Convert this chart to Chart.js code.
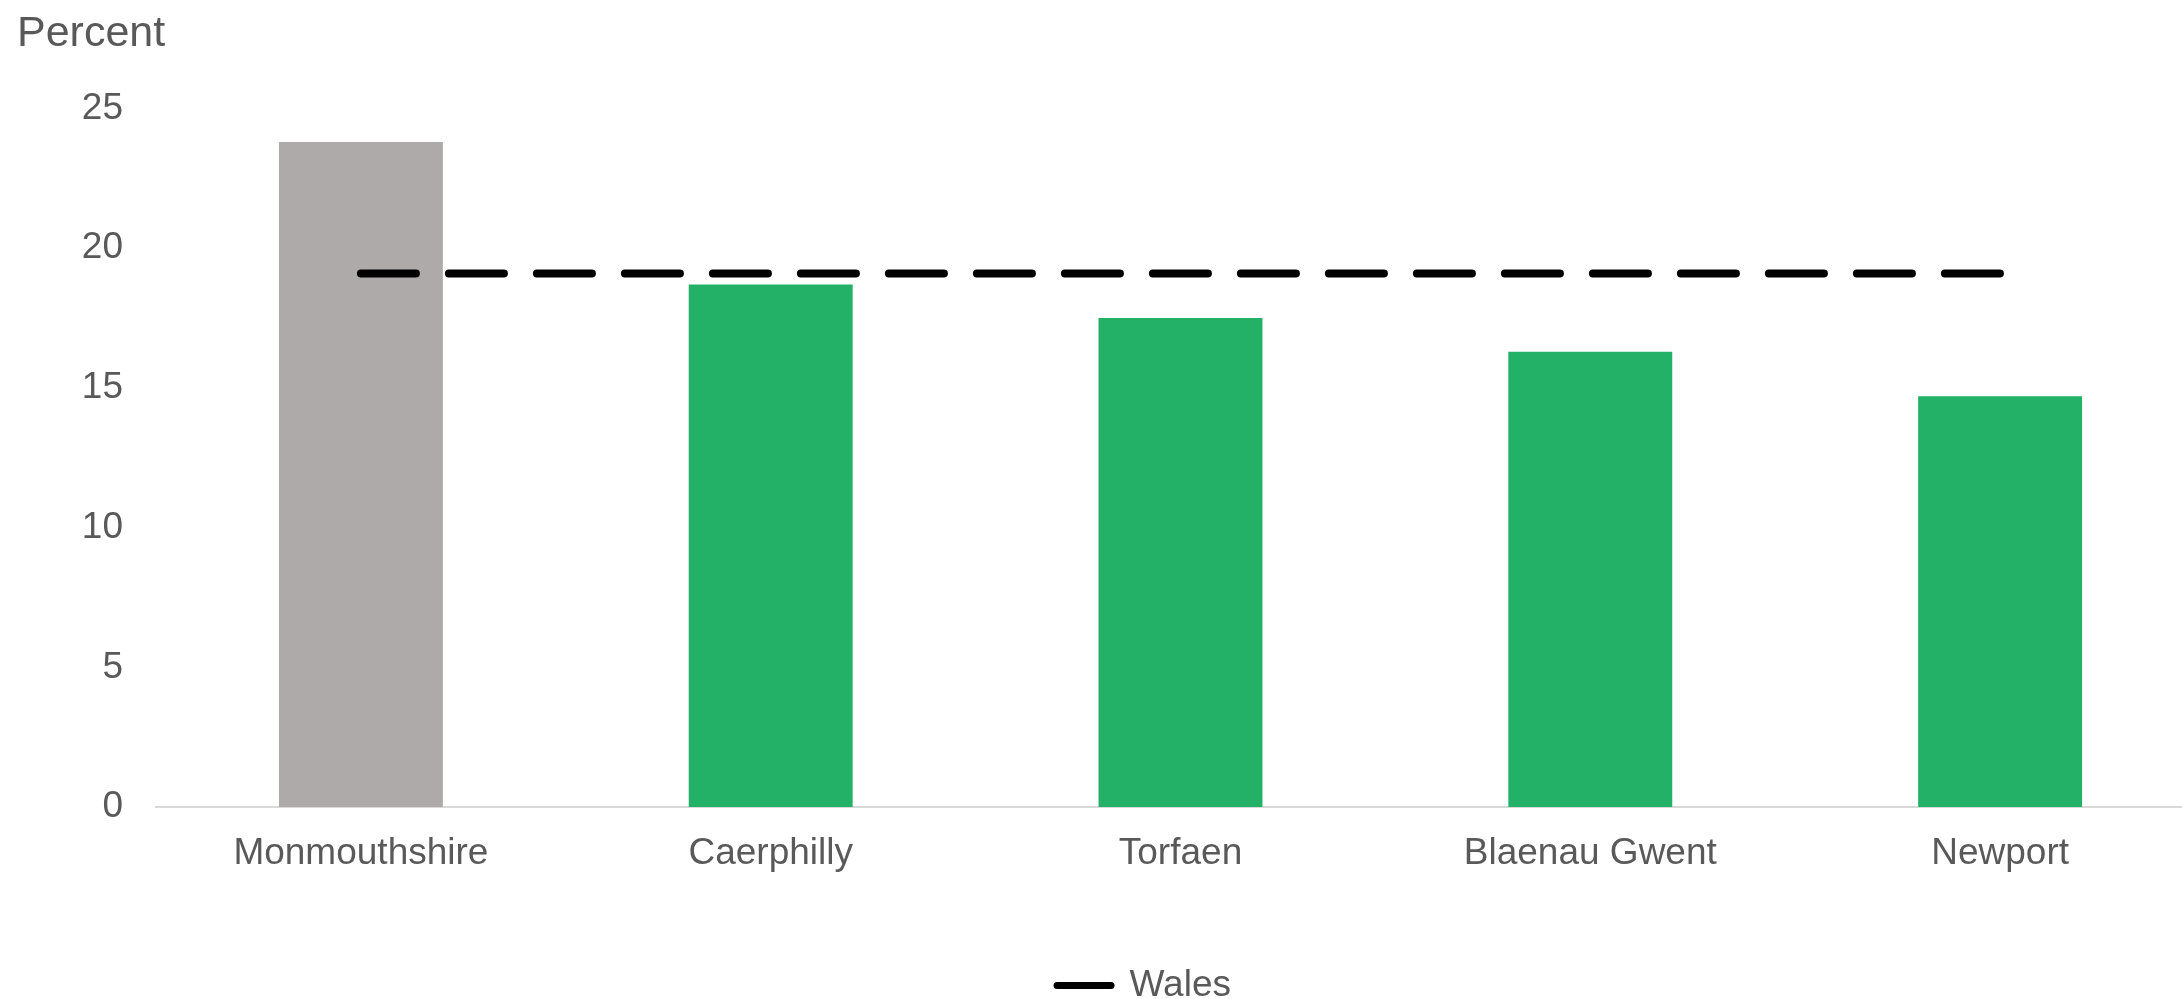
<!DOCTYPE html>
<html>
<head>
<meta charset="utf-8">
<script src="https://cdn.jsdelivr.net/npm/chart.js@4"></script>
<style>
  html, body { margin: 0; padding: 0; background: #fff; overflow: hidden; }
  canvas { display: block; }
</style>
</head>
<body>
<!-- a bit wider than the window: the Excel plot runs off the right edge -->
<canvas id="chart" width="2205" height="999"></canvas>
<script>
// data
const areas = ["Monmouthshire", "Caerphilly", "Torfaen", "Blaenau Gwent", "Newport"];
const areaValues = [23.8, 18.7, 17.5, 16.3, 14.7];
const walesValues = [19.1, 19.1, 19.1, 19.1, 19.1];
const barColors = ["#AEAAAA", "#23B067", "#23B067", "#23B067", "#23B067"];
const yTicks = [0, 5, 10, 15, 20, 25];

const textColor = "#595959";
const fontFamily = "'Liberation Sans', Arial, sans-serif";

// nudge the legend to where Excel put it
const legendShift = {
  id: "legendShift",
  afterLayout(chart) {
    const lg = chart.legend;
    if (!lg) return;
    lg.left += 33;
    lg.right += 33;
    lg.top += 15;
    lg.bottom += 15;
  }
};

new Chart(document.getElementById("chart"), {
  data: {
    labels: areas,
    datasets: [
      {
        type: "line",
        label: "Wales",
        data: walesValues,
        borderColor: "#000000",
        backgroundColor: "#000000",
        borderWidth: 8,
        borderDash: [55, 33],
        borderCapStyle: "round",
        pointRadius: 0,
        order: 0
      },
      {
        type: "bar",
        label: "Area",
        data: areaValues,
        backgroundColor: barColors,
        barPercentage: 0.4,
        categoryPercentage: 1,
        order: 1
      }
    ]
  },
  options: {
    responsive: false,
    animation: false,
    devicePixelRatio: 1,
    layout: {
      padding: { left: 17, right: 0, top: 0, bottom: 0 }
    },
    plugins: {
      tooltip: { enabled: false },
      title: {
        display: true,
        text: "Percent",
        align: "start",
        color: textColor,
        font: { family: fontFamily, size: 43, weight: "normal" },
        padding: { top: 8, bottom: 49 }
      },
      legend: {
        position: "bottom",
        labels: {
          color: textColor,
          font: { family: fontFamily, size: 37 },
          padding: 0,
          usePointStyle: true,
          pointStyleWidth: 54,
          generateLabels: () => [{
            text: "Wales",
            fillStyle: "#000000",
            strokeStyle: "#000000",
            lineWidth: 7,
            lineCap: "round",
            lineDash: [],
            pointStyle: "line",
            fontColor: textColor,
            datasetIndex: 0
          }]
        }
      }
    },
    scales: {
      x: {
        grid: { display: false, drawTicks: false },
        border: { display: true, color: "#D9D9D9", width: 2 },
        ticks: {
          color: textColor,
          font: { family: fontFamily, size: 37 },
          padding: 25,
          maxRotation: 0
        },
        afterFit: scale => { scale.height = 145; }
      },
      y: {
        min: 0,
        max: 25,
        grid: { display: false, drawTicks: false },
        border: { display: false },
        afterBuildTicks: scale => {
          scale.ticks = yTicks.map(v => ({ value: v }));
        },
        ticks: {
          color: textColor,
          font: { family: fontFamily, size: 37 },
          padding: 33
        },
        afterFit: scale => { scale.width = 139; }
      }
    }
  },
  plugins: [legendShift]
});
</script>
</body>
</html>
